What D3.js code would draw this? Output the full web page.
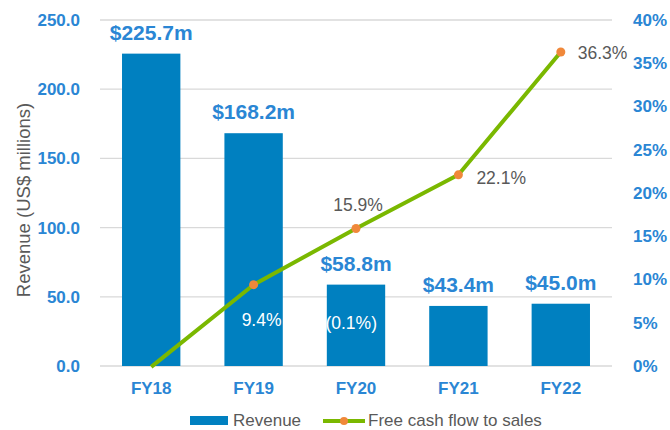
<html>
<head>
	<meta charset='utf-8' />
	<title>Revenue and Free Cash Flow to Sales</title>
	<script src="https://cdn.jsdelivr.net/npm/d3@7"></script>
	<style>
	body { margin: 0; background: #fff; }
	text { font-family: "Liberation Sans", Arial, sans-serif; }
	.grid line { stroke: #d9d9d9; stroke-width: 1.3; }
	</style>
</head>
<body>
<script>

	var years = ["FY18", "FY19", "FY20", "FY21", "FY22"];
	var revenue = [225.7, 168.2, 58.8, 43.4, 45.0];
	var fcfToSales = [-0.1, 9.4, 15.9, 22.1, 36.3];
	var revenueLabels = ["$225.7m", "$168.2m", "$58.8m", "$43.4m", "$45.0m"];
	var fcfLabels = ["(0.1%)", "9.4%", "15.9%", "22.1%", "36.3%"];
	var leftTicks = [0, 50, 100, 150, 200, 250];
	var rightTicks = [0, 5, 10, 15, 20, 25, 30, 35, 40];

	var margin = {top: 20, right: 58, bottom: 64, left: 100};
	var width = 670 - margin.left - margin.right,
		height = 430 - margin.top - margin.bottom;

	var blueBar = "#0080c0", blueText = "#2a86d4", green = "#7ab800", orange = "#f0883a", grey = "#595959";

	var base = d3.select("body").append("svg")
		.attr("width", 670).attr("height", 430);
	var svg = base.append("g").attr("transform", "translate(" + margin.left + "," + margin.top + ")");

	var xScale = d3.scaleBand().domain(years).range([0, width]).paddingInner(0.43).paddingOuter(0.215);
	var yScale = d3.scaleLinear().domain([0, 250]).range([height, 0]);
	var y2Scale = d3.scaleLinear().domain([0, 40]).range([height, 0]);

	// gridlines
	svg.append("g").attr("class", "grid")
		.selectAll("line").data(leftTicks).enter().append("line")
		.attr("x1", 0).attr("x2", width)
		.attr("y1", d => yScale(d)).attr("y2", d => yScale(d));

	// bars
	svg.selectAll(".bar").data(years).enter().append("rect")
		.attr("class", "bar")
		.attr("x", d => xScale(d))
		.attr("width", xScale.bandwidth())
		.attr("y", (d, i) => yScale(revenue[i]))
		.attr("height", (d, i) => height - yScale(revenue[i]))
		.attr("fill", blueBar);

	svg.selectAll(".revlabel").data(years).enter().append("text")
		.attr("class", "revlabel")
		.attr("x", d => xScale(d) + xScale.bandwidth() / 2)
		.attr("y", (d, i) => yScale(revenue[i]) - 14)
		.attr("text-anchor", "middle")
		.attr("font-size", "21px").attr("font-weight", "bold")
		.attr("fill", blueText)
		.text((d, i) => revenueLabels[i]);

	// line
	var pts = years.map((d, i) => ({year: d, v: fcfToSales[i], label: fcfLabels[i]}));
	var line = d3.line()
		.x(d => xScale(d.year) + xScale.bandwidth() / 2)
		.y(d => y2Scale(d.v));

	svg.append("path").datum(pts)
		.attr("fill", "none").attr("stroke", green).attr("stroke-width", 4)
		.attr("stroke-linejoin", "round")
		.attr("d", line);

	svg.selectAll(".dot").data(pts.slice(1)).enter().append("circle")
		.attr("cx", d => xScale(d.year) + xScale.bandwidth() / 2)
		.attr("cy", d => y2Scale(d.v))
		.attr("r", 4.5).attr("fill", orange);

	// label placement relative to each point
	var labelPos = [
		{dx: 200, dy: -38, anchor: "middle", fill: "#fff"},
		{dx: 8, dy: 41, anchor: "middle", fill: "#fff"},
		{dx: 2, dy: -17, anchor: "middle", fill: grey},
		{dx: 18, dy: 9, anchor: "start", fill: grey},
		{dx: 17, dy: 7, anchor: "start", fill: grey}
	];
	svg.selectAll(".fcflabel").data(pts).enter().append("text")
		.attr("class", "fcflabel")
		.attr("x", (d, i) => xScale(d.year) + xScale.bandwidth() / 2 + labelPos[i].dx)
		.attr("y", (d, i) => y2Scale(d.v) + labelPos[i].dy)
		.attr("text-anchor", (d, i) => labelPos[i].anchor)
		.attr("fill", (d, i) => labelPos[i].fill)
		.attr("font-size", "17.5px")
		.text(d => d.label);

	// axes
	var yAxis = svg.append("g")
		.call(d3.axisLeft(yScale).tickValues(leftTicks).tickSize(0).tickPadding(20).tickFormat(d3.format(".1f")));
	yAxis.select(".domain").remove();
	yAxis.selectAll("text").attr("fill", blueText).attr("font-size", "17px").attr("font-weight", "bold")
		.style("font-family", "'Liberation Sans', Arial, sans-serif");

	var y2Axis = svg.append("g").attr("transform", `translate(${width},0)`)
		.call(d3.axisRight(y2Scale).tickValues(rightTicks).tickSize(0).tickPadding(21).tickFormat(d => d + "%"));
	y2Axis.select(".domain").remove();
	y2Axis.selectAll("text").attr("fill", blueText).attr("font-size", "17px").attr("font-weight", "bold")
		.style("font-family", "'Liberation Sans', Arial, sans-serif");

	var xAxis = svg.append("g").attr("transform", "translate(0," + height + ")")
		.call(d3.axisBottom(xScale).tickSize(0).tickPadding(16));
	xAxis.select(".domain").remove();
	xAxis.selectAll("text").attr("fill", blueText).attr("font-size", "17px").attr("font-weight", "bold")
		.style("font-family", "'Liberation Sans', Arial, sans-serif");

	svg.append("text")
		.attr("transform", "rotate(-90)")
		.attr("x", -height / 2 - 7).attr("y", -70)
		.attr("text-anchor", "middle")
		.attr("fill", grey).attr("font-size", "18.5px")
		.text("Revenue (US$ millions)");

	// legend
	var legend = base.append("g").attr("transform", "translate(190,415)");
	legend.append("rect").attr("x", 0).attr("y", 1).attr("width", 38).attr("height", 9).attr("fill", blueBar);
	legend.append("text").attr("x", 43).attr("y", 11).attr("fill", grey).attr("font-size", "17px").text("Revenue");
	legend.append("line").attr("x1", 133).attr("x2", 175).attr("y1", 6).attr("y2", 6)
		.attr("stroke", green).attr("stroke-width", 4);
	legend.append("circle").attr("cx", 154).attr("cy", 6).attr("r", 4).attr("fill", orange);
	legend.append("text").attr("x", 178).attr("y", 11).attr("fill", grey).attr("font-size", "17px").text("Free cash flow to sales");

</script>
</body>
</html>
